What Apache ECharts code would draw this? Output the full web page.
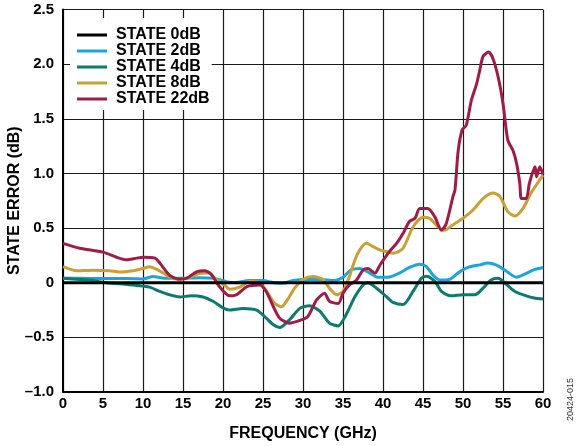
<!DOCTYPE html>
<html>
<head>
<meta charset="utf-8">
<script src="https://cdn.jsdelivr.net/npm/echarts@6/dist/echarts.min.js"></script>
<style>
html,body{margin:0;padding:0;background:#fff;}
#chart{width:582px;height:446px;}
</style>
</head>
<body>
<div id="chart"></div>
<script>
// ---- Data (frequency in GHz, state error in dB) ----
const seriesNames = ['STATE 0dB', 'STATE 2dB', 'STATE 4dB', 'STATE 8dB', 'STATE 22dB'];

const state0Freq = [0, 60];
const state0Err  = [0, 0];

const state2Freq = [0, 2, 5, 8, 10, 11.25, 12.9, 15, 17.1, 18.75, 20.4, 21.25, 23.3, 25, 26.3, 27.5, 28.75, 30.4, 32.1, 33.9, 35, 36, 37.1, 38.3, 39.4, 40.6, 42.1, 43.3, 44.6, 45.4, 46.25, 47.1, 48.3, 49.4, 50.6, 52.1, 53.1, 54.2, 55.2, 56.7, 57.9, 58.9, 60];
const state2Err  = [0.04, 0.04, 0.038, 0.038, 0.035, 0.056, 0.04, 0.04, 0.045, 0.04, 0.01, 0.0, 0.02, 0.02, 0.0, -0.005, 0.02, 0.03, 0.03, 0.02, 0.05, 0.117, 0.13, 0.09, 0.05, 0.05, 0.09, 0.14, 0.17, 0.15, 0.07, 0.025, 0.03, 0.09, 0.14, 0.163, 0.18, 0.16, 0.117, 0.05, 0.085, 0.12, 0.14];

const state4Freq = [0, 2.1, 3.75, 5.4, 7.1, 9.2, 10.8, 12.1, 13.3, 14.6, 16, 17.5, 18.75, 20, 20.8, 22.5, 24.2, 25.2, 26.3, 27.1, 28.3, 29.6, 30.8, 32.1, 33.3, 34.4, 35.4, 36.5, 37.5, 38.1, 39.2, 40.4, 41.25, 42.5, 43.75, 44.8, 45.4, 46.5, 47.3, 48.5, 50, 51.5, 52.5, 53.5, 54.4, 55.2, 56.5, 57.9, 58.9, 60];
const state4Err  = [0.04, 0.03, 0.02, 0.0, -0.01, -0.025, -0.04, -0.08, -0.11, -0.13, -0.12, -0.13, -0.17, -0.23, -0.25, -0.235, -0.25, -0.31, -0.385, -0.41, -0.34, -0.235, -0.21, -0.26, -0.37, -0.395, -0.29, -0.127, -0.02, 0.0, -0.05, -0.125, -0.18, -0.2, -0.08, 0.04, 0.06, 0.01, -0.08, -0.12, -0.11, -0.11, -0.05, 0.025, 0.04, 0.0, -0.08, -0.12, -0.14, -0.15];

const state8Freq = [0, 1.7, 3.75, 5.8, 7.1, 8.75, 10, 10.8, 11.9, 13.3, 14.6, 15.8, 17.1, 18.1, 19.2, 20.4, 20.8, 22.1, 23.3, 24.6, 25.6, 26.5, 27.3, 28.1, 28.96, 30, 31.25, 32.5, 33.3, 34.2, 35, 35.8, 36.5, 37.1, 37.9, 38.75, 39.6, 40.7, 41.25, 42.5, 43.75, 45, 45.8, 46.9, 47.7, 48.75, 50, 51.25, 52.5, 53.75, 54.6, 55.6, 56.5, 57.5, 58.5, 59.4, 60];
const state8Err  = [0.147, 0.11, 0.115, 0.11, 0.099, 0.11, 0.13, 0.147, 0.115, 0.056, 0.03, 0.05, 0.087, 0.09, 0.03, -0.035, -0.06, -0.04, 0.01, 0.0, -0.096, -0.19, -0.22, -0.15, -0.05, 0.03, 0.056, 0.03, -0.05, -0.11, -0.08, 0.056, 0.21, 0.30, 0.36, 0.33, 0.30, 0.28, 0.27, 0.315, 0.51, 0.60, 0.59, 0.51, 0.48, 0.53, 0.59, 0.665, 0.77, 0.82, 0.79, 0.65, 0.61, 0.68, 0.82, 0.92, 0.985];

const state22Freq = [0, 2.1, 5, 6.7, 7.9, 9.2, 10, 11.5, 12.1, 13.3, 14.4, 15.4, 16.7, 17.7, 18.5, 19.6, 20.8, 21.7, 23, 24.6, 25.4, 26.3, 27.1, 28.3, 29.6, 30.6, 31.7, 32.7, 33.3, 34.4, 35, 35.8, 36.7, 37.5, 38.1, 39, 39.6, 40.8, 41.7, 42.5, 43.3, 44, 44.6, 45.6, 46.5, 47.3, 47.9, 48.75, 49.0, 49.4, 49.9, 50.4, 51.05, 51.7, 52.1, 52.5, 53.2, 53.75, 54.4, 55, 55.6, 56.25, 56.7, 57.1, 57.3, 57.9, 58.3, 59, 59.2, 59.6, 60];
const state22Err  = [0.36, 0.315, 0.28, 0.233, 0.21, 0.225, 0.233, 0.225, 0.18, 0.07, 0.035, 0.04, 0.10, 0.11, 0.08, -0.04, -0.12, -0.11, -0.035, -0.02, -0.08, -0.22, -0.325, -0.37, -0.345, -0.31, -0.157, -0.096, -0.17, -0.19, -0.096, -0.02, 0.025, 0.117, 0.13, 0.087, 0.16, 0.285, 0.36, 0.45, 0.56, 0.59, 0.68, 0.68, 0.60, 0.48, 0.54, 0.79, 0.85, 1.21, 1.40, 1.44, 1.67, 1.82, 1.945, 2.07, 2.11, 2.05, 1.88, 1.64, 1.305, 1.21, 1.09, 0.91, 0.77, 0.77, 0.91, 1.06, 0.97, 1.06, 0.99];

const xTickLabels = ['0','5','10','15','20','25','30','35','40','45','50','55','60'];
const yTickLabels = ['\u20131.0','\u20130.5','0','0.5','1.0','1.5','2.0','2.5'];

const seriesColors = ['#000000', '#1ba5de', '#0b7a70', '#c8a034', '#a01c48'];

// ---- Build chart ----
function pairs(xs, ys){ return xs.map((x,i)=>[x, ys[i]]); }
const allFreq = [state0Freq, state2Freq, state4Freq, state8Freq, state22Freq];
const allErr  = [state0Err, state2Err, state4Err, state8Err, state22Err];

const chart = echarts.init(document.getElementById('chart'), null, {renderer:'canvas'});
const FONT = 'Liberation Sans, Arial, sans-serif';

const option = {
  animation: false,
  backgroundColor: '#fff',
  grid: { left: 63, right: 39, top: 9.5, bottom: 54, containLabel: false, outerBoundsMode: 'none' },
  xAxis: {
    type: 'value', min: 0, max: 60, interval: 5,
    name: 'FREQUENCY (GHz)', nameLocation: 'middle', nameGap: 34, nameMoveOverlap: false,
    nameTextStyle: { fontFamily: FONT, fontWeight: 'bold', fontSize: 16, color: '#000' },
    axisLine: { show: true, onZero: false, lineStyle: { color: '#000', width: 2 } },
    axisTick: { show: false },
    axisLabel: { fontFamily: FONT, fontWeight: 'bold', fontSize: 15, color: '#000', margin: 4,
      formatter: v => xTickLabels[Math.round(v/5)] },
    splitLine: { show: true, lineStyle: { color: '#1a1a1a', width: 1.2 } }
  },
  yAxis: {
    type: 'value', min: -1, max: 2.5, interval: 0.5,
    name: 'STATE ERROR (dB)', nameLocation: 'middle', nameGap: 40, nameMoveOverlap: false,
    nameTextStyle: { fontFamily: FONT, fontWeight: 'bold', fontSize: 16, color: '#000' },
    axisLine: { show: true, onZero: false, lineStyle: { color: '#000', width: 2 } },
    axisTick: { show: false },
    axisLabel: { fontFamily: FONT, fontWeight: 'bold', fontSize: 15, color: '#000', margin: 9,
      formatter: v => yTickLabels[Math.round((v + 1) / 0.5)] },
    splitLine: { show: true, lineStyle: { color: '#1a1a1a', width: 1.2 } }
  },
  legend: {
    orient: 'vertical', left: 70, top: 18,
    backgroundColor: '#fff',
    padding: [9, 2, 3, 7],
    itemGap: 0,
    itemWidth: 30, itemHeight: 3,
    icon: 'rect',
    data: seriesNames,
    textStyle: { fontFamily: FONT, fontWeight: 'bold', fontSize: 16, color: '#000', lineHeight: 16, padding: [0,0,0,4] }
  },
  graphic: [{
    type: 'text', left: 566, top: 378, rotation: Math.PI/2,
    style: { text: '20424-015', font: '9px ' + FONT, fill: '#333' }
  }],
  series: seriesNames.map((n, i) => ({
    name: n, type: 'line', data: pairs(allFreq[i], allErr[i]),
    showSymbol: false, smooth: 0.25,
    lineStyle: { color: seriesColors[i], width: 3 },
    itemStyle: { color: seriesColors[i] },
    z: i === 0 ? 3 : 2
  }))
};
chart.setOption(option);
</script>
</body>
</html>
